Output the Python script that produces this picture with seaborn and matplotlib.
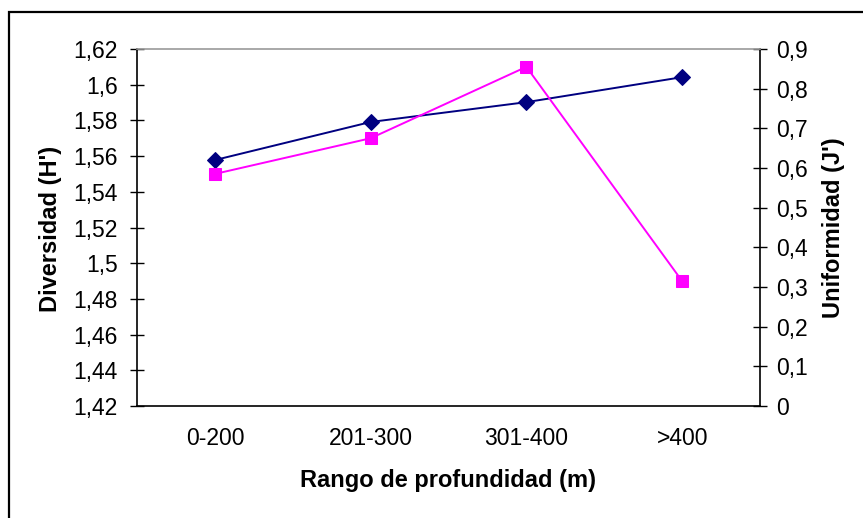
import matplotlib
matplotlib.use("Agg")
import matplotlib.pyplot as plt
import seaborn as sns
import pandas as pd
from matplotlib.ticker import FuncFormatter, FixedLocator
from matplotlib.patches import Rectangle

categories = ["0-200", "201-300", "301-400", ">400"]
diversidad = [1.55, 1.57, 1.61, 1.49]      # left axis (H'), magenta squares
uniformidad = [0.62, 0.716, 0.766, 0.829]  # right axis (J'), navy diamonds

sns.set_style("white")
plt.rcParams["font.family"] = ["Liberation Sans", "DejaVu Sans"]
plt.rcParams["text.color"] = "black"
plt.rcParams["axes.labelcolor"] = "black"
plt.rcParams["xtick.color"] = "black"
plt.rcParams["ytick.color"] = "black"

df = pd.DataFrame({"rango": categories, "H": diversidad, "J": uniformidad})

fig = plt.figure(figsize=(8.63, 5.18), dpi=100)
ax = fig.add_axes([137/863, 1-406/518, (760-137)/863, (406-49)/518])
ax2 = ax.twinx()

sns.lineplot(data=df, x="rango", y="H", ax=ax, color="#FF00FF", marker="s",
             markersize=8, markeredgecolor="#FF00FF", linewidth=1.4, sort=False)
sns.lineplot(data=df, x="rango", y="J", ax=ax2, color="#000080", marker="D",
             markersize=8, markeredgecolor="#000080", linewidth=1.4, sort=False)
ax2.set_zorder(ax.get_zorder() - 1)
ax.patch.set_visible(False)
ax2.patch.set_visible(True)
ax2.patch.set_facecolor("white")

ax.set_xlim(-0.5, 3.5)
ax.set_ylim(1.42, 1.62)
ax2.set_ylim(0, 0.9)

ax.set_yticks([1.42 + 0.02*i for i in range(11)])
ax2.set_yticks([0.1*i for i in range(10)])

def fmt(v, pos):
    return f"{round(v, 2):g}".replace(".", ",")
ax.yaxis.set_major_formatter(FuncFormatter(fmt))
ax2.yaxis.set_major_formatter(FuncFormatter(fmt))

ax.xaxis.set_major_locator(FixedLocator([-0.5, 0.5, 1.5, 2.5, 3.5]))
ax.xaxis.set_minor_locator(FixedLocator([0, 1, 2, 3]))
ax.set_xticklabels([])
ax.set_xticklabels(categories, minor=True)
ax.tick_params(axis="x", which="minor", length=0, pad=15, labelsize=16.5, labelcolor="black")
ax.tick_params(axis="x", which="major", direction="inout", length=10.5, width=1, color="black")
ax.tick_params(axis="y", direction="inout", length=10.5, width=1, color="black", pad=8.5,
               labelsize=16.5, labelcolor="black")
ax2.tick_params(axis="y", direction="inout", length=10.5, width=1, color="black", pad=6.5,
                labelsize=16.5, labelcolor="black")

for a in (ax, ax2):
    for s in a.spines.values():
        s.set_visible(False)
ax.spines["left"].set_visible(True)
ax.spines["left"].set_color("black")
ax.spines["bottom"].set_visible(True)
ax.spines["bottom"].set_color("black")
ax2.spines["right"].set_visible(True)
ax2.spines["right"].set_color("black")
ax.spines["top"].set_visible(True)
ax.spines["top"].set_color("#999999")
for sp in ("left", "bottom"):
    ax.spines[sp].set_linewidth(1.2)
ax2.spines["right"].set_linewidth(1.2)
ax.spines["top"].set_linewidth(1.2)

ax.set_xlabel("")
ax.set_ylabel("")
ax2.set_ylabel("")
fig.text(50/863, 1-229/518, "Diversidad (H')", rotation=90, ha="center", va="center",
         fontsize=17, fontweight="bold", color="black")
fig.text(833/863, 1-228/518, "Uniformidad (J')", rotation=90, ha="center", va="center",
         fontsize=17, fontweight="bold", color="black")
fig.text(448/863, 1-481/518, "Rango de profundidad (m)", ha="center", va="center",
         fontsize=17, fontweight="bold", color="black")

fig.patches.append(Rectangle((9/863, -0.2), 1.2, 1.2 - 12/518,
                             transform=fig.transFigure, fill=False, edgecolor="black",
                             linewidth=1.6, clip_on=False))

fig.savefig("out.png", dpi=100)
